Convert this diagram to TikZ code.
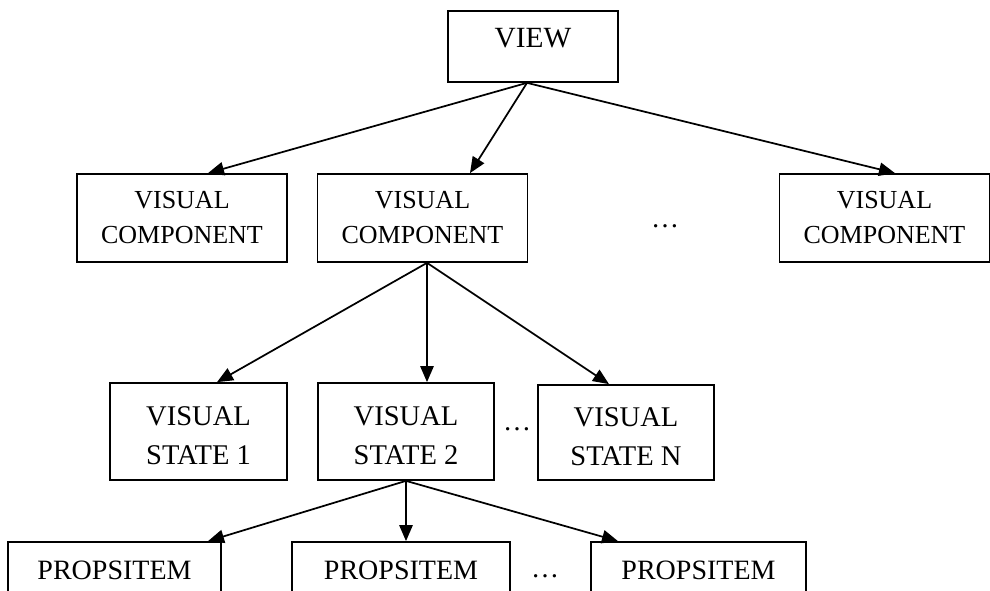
\documentclass[tikz,border=0pt]{standalone}
\usepackage{fontspec}
\setmainfont{Liberation Serif}
\usetikzlibrary{arrows.meta,calc}
\begin{document}
\begin{tikzpicture}[x=0.75pt,y=-0.75pt,
  box/.style={draw, line width=1.3pt, inner sep=0pt, align=center},
  rootbox/.style={box, font=\fontsize{22}{26}\selectfont},
  compbox/.style={box, font=\fontsize{19.5}{26.25}\selectfont},
  statebox/.style={box, font=\fontsize{21.4}{29.25}\selectfont, text height=50.25pt, text depth=0pt},
  itembox/.style={box, font=\fontsize{21}{25}\selectfont, text depth=4.5pt},
  dots/.style={inner sep=0pt, font=\fontsize{21}{25}\selectfont},
  link/.style={line width=1.3pt, -{Triangle[length=12pt,width=10pt]}}]
\useasboundingbox (0,0) rectangle (990,591);
\clip (0,0) rectangle (990,591);

% root
\node[rootbox, minimum width=127.5pt, minimum height=53.25pt, text depth=12.75pt] (view) at (533,46.5) {VIEW};

% visual components
\node[compbox, minimum width=157.5pt, minimum height=66pt] (c1) at (182,218) {VISUAL\\COMPONENT};
\node[compbox, minimum width=157.5pt, minimum height=66pt] (c2) at (422.5,218) {VISUAL\\COMPONENT};
\node[compbox, minimum width=157.5pt, minimum height=66pt] (c3) at (884.5,218) {VISUAL\\COMPONENT};
\node[dots] (cdots) at (665,226) {…};

% visual states
\node[statebox, minimum width=132.4pt, minimum height=72.75pt] (s1) at (198.5,431.5) {VISUAL\\STATE 1};
\node[statebox, minimum width=132.4pt, minimum height=72.75pt] (s2) at (406,431.5) {VISUAL\\STATE 2};
\node[statebox, minimum width=132.4pt, minimum height=71.25pt] (sn) at (626,432.5) {VISUAL\\STATE N};
\node[dots] (sdots) at (517,429) {…};

% property items
\node[itembox, minimum width=159.75pt, minimum height=47.25pt] (p1) at (114.5,573.5) {PROPSITEM};
\node[itembox, minimum width=163.5pt, minimum height=47.25pt] (p2) at (401,573.5) {PROPSITEM};
\node[itembox, minimum width=161.25pt, minimum height=47.25pt] (p3) at (698.5,573.5) {PROPSITEM};
\node[dots] (pdots) at (545,576) {…};

% view -> components
\draw[link] ($(view.south)+(-6,0)$) -- ($(c1.north)+(26,0)$);
\draw[link] ($(view.south)+(-6,0)$) -- ($(c2.north)+(47.5,0)$);
\draw[link] ($(view.south)+(-6,0)$) -- ($(c3.north)+(10.5,0)$);

% component -> states
\draw[link] ($(c2.south)+(4.5,0)$) -- ($(s1.north)+(18.5,0)$);
\draw[link] ($(c2.south)+(4.5,0)$) -- ($(s2.north)+(21,0)$);
\draw[link] ($(c2.south)+(4.5,0)$) -- ($(sn.north)+(-17,0)$);

% state -> property items
\draw[link] (s2.south) -- ($(p1.north)+(93.5,0)$);
\draw[link] (s2.south) -- ($(p2.north)+(5,0)$);
\draw[link] (s2.south) -- ($(p3.north)+(-80.5,0)$);
\end{tikzpicture}
\end{document}
